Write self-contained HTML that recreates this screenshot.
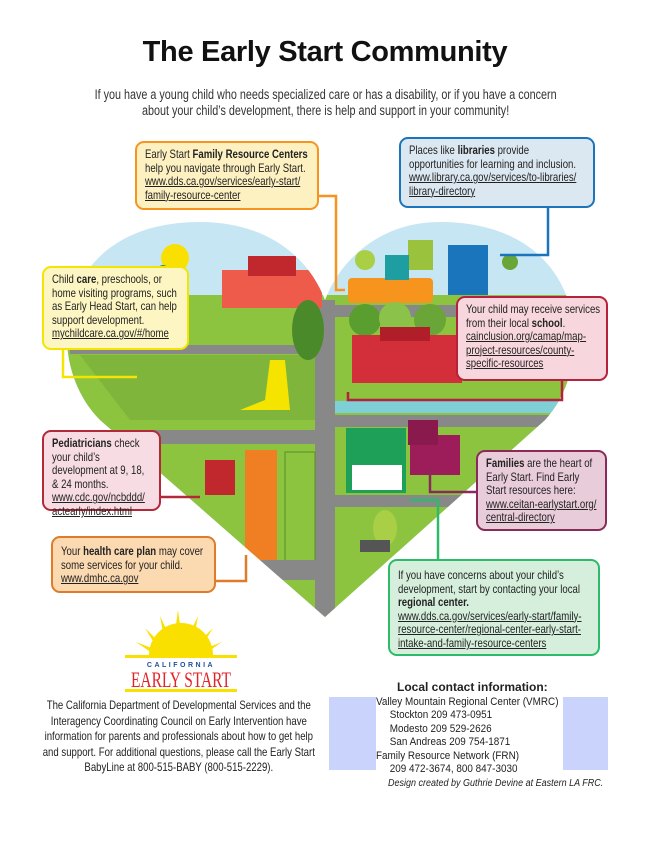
<!DOCTYPE html>
<html><head><meta charset="utf-8"><style>
body{margin:0;width:650px;height:841px;background:#fff;position:relative;overflow:hidden;font-family:"Liberation Sans",sans-serif;color:#222}
.a{position:absolute}
.box{position:absolute;border:2.5px solid;border-radius:9px;font-size:12px;line-height:13.6px;padding:5px 8px;box-sizing:border-box;overflow:visible}
.n{transform:scaleX(0.8);transform-origin:0 0}
.box u{text-decoration:underline}
h1{position:absolute;left:0;width:650px;top:36px;margin:0;text-align:center;font:bold 29px "Liberation Sans",sans-serif;letter-spacing:-0.3px;color:#111}
.sub{position:absolute;left:38px;width:719px;top:87px;text-align:center;font-size:13.5px;line-height:16px;color:#333}
</style></head><body>
<h1>The Early Start Community</h1>
<div class="sub n">If you have a young child who needs specialized care or has a disability, or if you have a concern<br>about your child’s development, there is help and support in your community!</div>

<svg class="a" style="left:0;top:0" width="650" height="841">
<defs><clipPath id="h"><path d="M325,617 L100,420 C40,360 55,222 200,222 C270,222 310,260 325,300 C340,260 380,222 440,222 C585,222 600,360 545,420 Z"/></clipPath></defs>
<g clip-path="url(#h)">
<rect x="0" y="200" width="650" height="450" fill="#c7e6f3"/>
<rect x="0" y="295" width="650" height="400" fill="#8cc43f"/>
<circle cx="175" cy="258" r="14" fill="#f9e000"/>
<path d="M80,355 H315 V420 H130 Z" fill="#7fb53a"/>
<rect x="70" y="345" width="260" height="9" fill="#888"/>
<rect x="315" y="300" width="20" height="330" fill="#888"/>
<rect x="330" y="305" width="230" height="12" fill="#888"/>
<rect x="120" y="430" width="200" height="14" fill="#888"/>
<rect x="335" y="415" width="230" height="12" fill="#888"/>
<rect x="335" y="495" width="200" height="12" fill="#888"/>
<rect x="335" y="401" width="230" height="12" fill="#7fcfd6"/>
<rect x="222" y="270" width="100" height="38" fill="#ee5b4b"/>
<rect x="248" y="256" width="48" height="20" fill="#c0282e"/>
<rect x="348" y="278" width="85" height="25" rx="4" fill="#f7941d"/>
<rect x="408" y="240" width="25" height="30" fill="#9bc23c"/>
<rect x="385" y="255" width="24" height="25" fill="#1e9ea0"/>
<rect x="448" y="245" width="40" height="50" fill="#1b75bc"/>
<circle cx="365" cy="260" r="10" fill="#a8cf45"/><circle cx="510" cy="262" r="8" fill="#6aa637"/>
<circle cx="365" cy="320" r="16" fill="#5a9e2f"/><circle cx="395" cy="318" r="16" fill="#8bc34a"/><circle cx="430" cy="320" r="16" fill="#6aa637"/>
<rect x="352" y="335" width="110" height="48" fill="#d22f3a"/>
<rect x="380" y="327" width="50" height="14" fill="#b01e2a"/>
<ellipse cx="163" cy="290" rx="12" ry="25" fill="#4a8a2a"/>
<ellipse cx="308" cy="330" rx="16" ry="30" fill="#4a8a2a"/>
<path d="M270,360 L265,400 L240,410 L290,410 L285,360Z" fill="#f4e400"/>
<rect x="205" y="460" width="30" height="35" fill="#c0282e"/>
<rect x="245" y="450" width="32" height="110" fill="#ef7f22"/>
<rect x="285" y="452" width="30" height="110" fill="#8cc43f" stroke="#5a8d2a"/>
<path d="M245,560 H320 V580 H260 Z" fill="#888"/>
<rect x="346" y="428" width="60" height="65" fill="#1fa058"/>
<rect x="352" y="465" width="50" height="25" fill="#fff"/>
<rect x="410" y="435" width="50" height="40" fill="#9c1d5a"/>
<rect x="408" y="420" width="30" height="25" fill="#8a1a4e"/>
<ellipse cx="385" cy="528" rx="12" ry="18" fill="#a8cf45"/>
<rect x="360" y="540" width="30" height="12" fill="#555"/>
</g>
<g fill="none" stroke-width="2.5">
<path d="M318,196 H336 V290 H345" stroke="#f7941d"/>
<path d="M548,207 V255 H500" stroke="#1b75bc"/>
<path d="M63,349 V377 H137" stroke="#f2e600"/>
<path d="M562,380 V400 H348 V392" stroke="#b5223b"/>
<path d="M160,497 H200" stroke="#b22a3a"/>
<path d="M477,492 H430 V470" stroke="#8b2a5a"/>
<path d="M215,581 H246 V555" stroke="#e07b2a"/>
<path d="M438,559 V500 H410" stroke="#2dbb6a"/>
</g>
<g fill="#f9e000">
<path d="M149,655 A32,32 0 0 1 213,655 Z"/>
<rect x="125" y="655" width="112" height="3"/>
<rect x="125" y="689" width="112" height="3"/>
<path d="M178,610 l3,22 -6,0Z M160,616 l9,19 -5,3Z M198,616 l-9,19 5,3Z M145,628 l14,14 -3,4Z M213,628 l-14,14 3,4Z M136,642 l18,7 -2,4Z M222,642 l-18,7 2,4Z"/>
</g>
<text x="181" y="667" font-family="Liberation Sans" font-weight="bold" font-size="7" fill="#1f4fa0" text-anchor="middle" letter-spacing="2.5">CALIFORNIA</text>
<text x="181" y="687" font-family="Liberation Serif" font-size="22" fill="#e2232a" text-anchor="middle" textLength="100" lengthAdjust="spacingAndGlyphs">EARLY START</text>
<rect x="329" y="697" width="47" height="73" fill="#c9d3fb"/>
<rect x="563" y="697" width="45" height="73" fill="#c9d3fb"/>
</svg>

<div class="box" style="left:135px;top:141px;width:184px;height:69px;background:#fdf1c2;border-color:#f7941d"><div class="n" style="width:205px">Early Start <b>Family Resource Centers</b> help you navigate through Early Start.<br><u>www.dds.ca.gov/services/early-start/</u><br><u>family-resource-center</u></div></div>
<div class="box" style="left:399px;top:137px;width:196px;height:71px;background:#dce8f1;border-color:#1b75bc"><div class="n" style="width:222px">Places like <b>libraries</b> provide opportunities for learning and inclusion.<br><u>www.library.ca.gov/services/to-libraries/</u><br><u>library-directory</u></div></div>
<div class="box" style="left:42px;top:266px;width:147px;height:84px;background:#fdf6c3;border-color:#f2e600"><div class="n" style="width:160px">Child <b>care</b>, preschools, or home visiting programs, such as Early Head Start, can help support development.<br><u>mychildcare.ca.gov/#/home</u></div></div>
<div class="box" style="left:456px;top:296px;width:152px;height:85px;background:#f8d6dd;border-color:#b5223b"><div class="n" style="width:168px">Your child may receive services from their local <b>school</b>.<br><u>cainclusion.org/camap/map-project-resources/county-specific-resources</u></div></div>
<div class="box" style="left:42px;top:430px;width:119px;height:81px;background:#f7dde3;border-color:#b22a3a"><div class="n" style="width:125px"><b>Pediatricians</b> check your child’s development at 9, 18, &amp; 24 months.<br><u>www.cdc.gov/ncbddd/</u><br><u>actearly/index.html</u></div></div>
<div class="box" style="left:476px;top:450px;width:131px;height:81px;background:#e9ccd9;border-color:#8b2a5a"><div class="n" style="width:142px"><b>Families</b> are the heart of Early Start. Find Early Start resources here:<br><u>www.ceitan-earlystart.org/</u><br><u>central-directory</u></div></div>
<div class="box" style="left:51px;top:536px;width:165px;height:57px;background:#fbd9b1;border-color:#e07b2a;padding-top:7px"><div class="n" style="width:182px">Your <b>health care plan</b> may cover some services for your child.<br><u>www.dmhc.ca.gov</u></div></div>
<div class="box" style="left:388px;top:559px;width:212px;height:97px;background:#d6efdc;border-color:#2dbb6a;padding-top:8px"><div class="n" style="width:242px">If you have concerns about your child’s development, start by contacting your local <b>regional center.</b><br><u>www.dds.ca.gov/services/early-start/family-resource-center/regional-center-early-start-intake-and-family-resource-centers</u></div></div>

<div class="a n" style="left:42px;top:698px;width:342px;text-align:center;font-size:12px;line-height:15.5px">The California Department of Developmental Services and the Interagency Coordinating Council on Early Intervention have information for parents and professionals about how to get help and support. For additional questions, please call the Early Start BabyLine at 800-515-BABY (800-515-2229).</div>
<div class="a" style="left:397px;top:680px;font:bold 12px 'Liberation Sans',sans-serif;color:#222">Local contact information:</div>
<div class="a n" style="left:376px;top:696px;font-size:11px;line-height:13.4px;white-space:pre;transform:scaleX(0.9)">Valley Mountain Regional Center (VMRC)
     Stockton 209 473-0951
     Modesto 209 529-2626
     San Andreas 209 754-1871
Family Resource Network (FRN)
     209 472-3674, 800 847-3030</div>
<div class="a n" style="left:388px;top:778px;font-size:10px;font-style:italic;white-space:nowrap;transform:scaleX(0.9)">Design created by Guthrie Devine at Eastern LA FRC.</div>
</body></html>
